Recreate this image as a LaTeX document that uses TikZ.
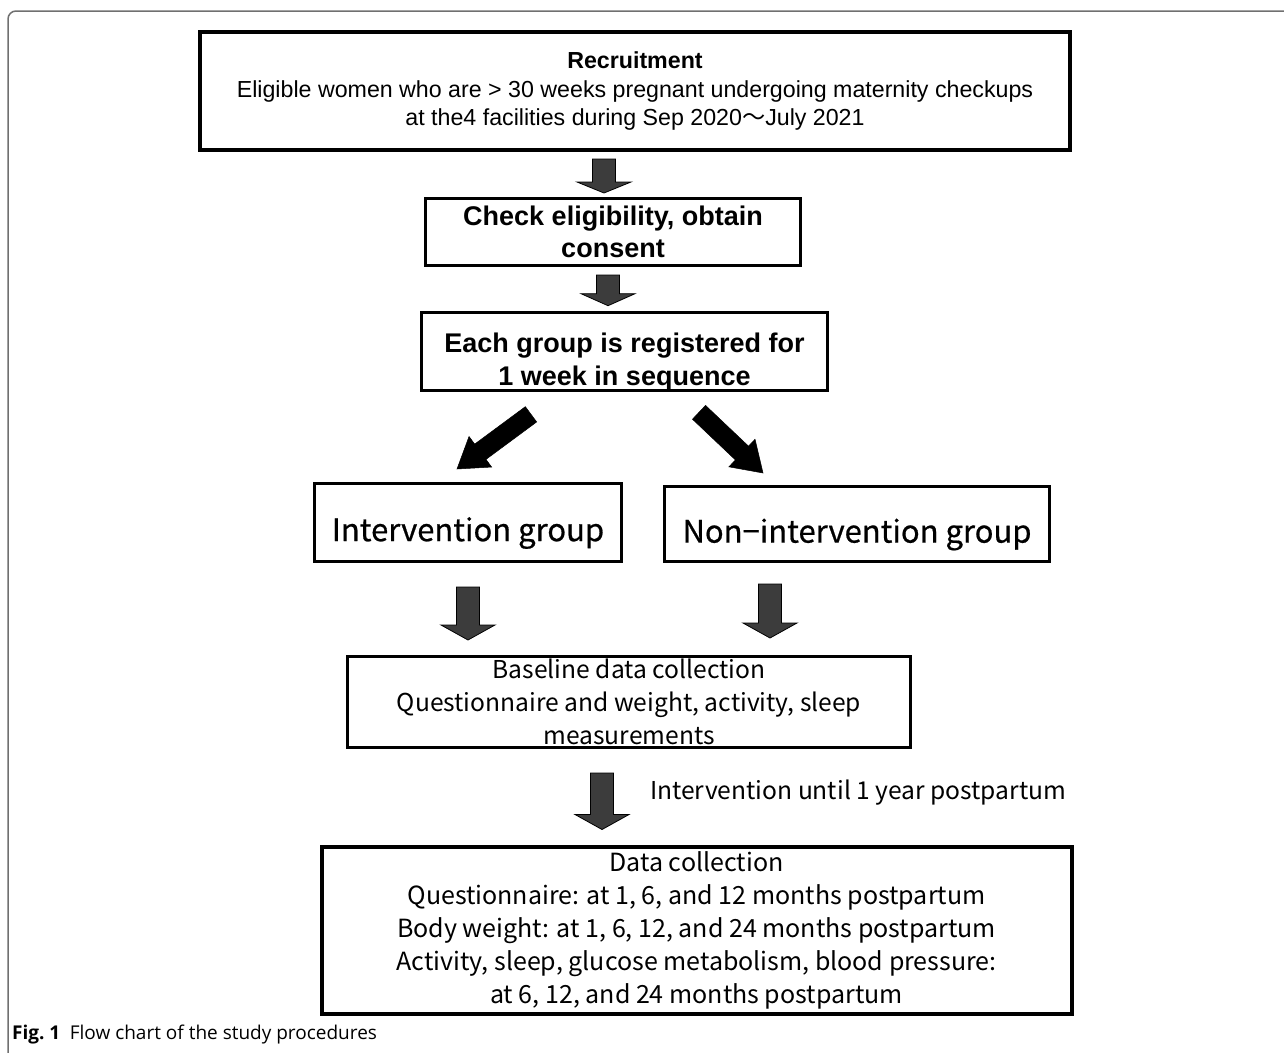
\documentclass[tikz,border=0pt]{standalone}
\usepackage{fontspec}
\setmainfont{Liberation Sans}
\newfontfamily\gothic{Noto Sans CJK JP}
\newfontfamily\gothicb[FakeBold=0.6]{Noto Sans CJK JP}
\newfontfamily\capfont{Open Sans}
\usetikzlibrary{calc,positioning}

\definecolor{arrowgray}{HTML}{3C3C3C}
\definecolor{framegray}{HTML}{707070}

\tikzset{
  fatsize/.code args={#1/#2/#3}{\def\fatsw{#1}\def\fathw{#2}\def\fathl{#3}},
  fat/.style={to path={
    (\tikztostart) coordinate (fa) (\tikztotarget) coordinate (fz)
    ($(fz)!\fathl!(fa)$) coordinate (fb)
    ($(fa)!\fatsw!90:(fz)$) -- ($(fb)!\fatsw!-90:(fa)$) -- ($(fb)!\fathw!-90:(fa)$)
    -- (fz) -- ($(fb)!\fathw!90:(fa)$) -- ($(fb)!\fatsw!90:(fa)$)
    -- ($(fa)!\fatsw!-90:(fz)$) -- cycle}},
  graydown/.style={fat, fatsize=11.5pt/27pt/15pt, draw=black, line width=0.8pt, fill=arrowgray},
  blackdiag/.style={fat, fatsize=9.5pt/19pt/29pt, draw=black, line width=0.5pt, fill=black},
  box/.style={draw, line width=3pt, inner sep=0pt, align=center},
}

\begin{document}
\begin{tikzpicture}[x=1pt,y=-1pt]
  \useasboundingbox (0,0) rectangle (1284,1052);
  \draw[framegray, line width=1.5pt, rounded corners=8pt] (8,1060) -- (8,11) -- (1290,11);

  % boxes
  \node[box, line width=4pt, minimum width=870pt, minimum height=118pt,
        font=\fontsize{23.2}{28}\selectfont] (recruit) at (635,91)
        {\textbf{Recruitment}\\Eligible women who are > 30 weeks pregnant undergoing maternity checkups\\at the4 facilities during Sep 2020{\gothic ～}July 2021};
  \node[box, minimum width=375pt, minimum height=67pt,
        font=\bfseries\fontsize{27}{32}\selectfont] (check) at (613,232)
        {Check eligibility, obtain\\consent};
  \node[box, minimum width=406pt, minimum height=78pt,
        font=\bfseries\fontsize{27}{33}\selectfont] (each) at (624.5,351.5)
        {\rule{0pt}{40pt}Each group is registered for\\1 week in sequence};
  \node[box, minimum width=307pt, minimum height=78pt,
        font=\gothicb\fontsize{31}{34}\selectfont] (interv) at (468,522.5)
        {\rule{0pt}{45pt}Intervention group};
  \node[box, minimum width=385pt, minimum height=75pt,
        font=\gothicb\fontsize{31}{34}\selectfont] (noninterv) at (857,524)
        {\rule{0pt}{45pt}Non−intervention group};
  \node[box, minimum width=563pt, minimum height=91pt,
        font=\gothic\fontsize{24.6}{33}\selectfont] (baseline) at (629,702)
        {Baseline data collection\\Questionnaire and weight, activity, sleep\\measurements};
  \node[box, line width=4pt, minimum width=750pt, minimum height=167pt,
        font=\gothic\fontsize{25}{33}\selectfont] (data) at (696.5,930)
        {Data collection\\Questionnaire: at 1, 6, and 12 months postpartum\\Body weight: at 1, 6, 12, and 24 months postpartum\\Activity, sleep, glucose metabolism, blood pressure:\\at 6, 12, and 24 months postpartum};

  \node[anchor=west, inner sep=0pt, font=\gothic\fontsize{24.6}{28}\selectfont] (until) at (650,793)
        {Intervention until 1 year postpartum};

  % block arrows
  \draw[graydown, fatsize=11.5pt/27pt/11pt] ([xshift=-31pt,yshift=-7pt]recruit.south) to ([xshift=-9pt,yshift=4pt]check.north);
  \draw[graydown, fatsize=11.5pt/27pt/12pt] ([xshift=-5pt,yshift=-8pt]check.south) to ([xshift=-16.5pt,yshift=5pt]each.north);
  \draw[blackdiag] ([xshift=-93.5pt,yshift=-22pt]each.south) to ([xshift=-11pt,yshift=13pt]interv.north);
  \draw[blackdiag] ([xshift=74.5pt,yshift=-20pt]each.south) to ([xshift=-94pt,yshift=12pt]noninterv.north);
  \draw[graydown] ([yshift=-24pt]interv.south) to ([xshift=-161pt,yshift=15pt]baseline.north);
  \draw[graydown] ([xshift=-87pt,yshift=-21pt]noninterv.south) to ([xshift=141pt,yshift=17pt]baseline.north);
  \draw[graydown] ([xshift=-27pt,yshift=-24pt]baseline.south) to ([xshift=-94.5pt,yshift=15pt]data.north);

  \node[anchor=west, inner sep=0pt, font=\capfont\fontsize{19}{22}\selectfont] (caption) at (12,1034)
        {\textbf{Fig.~1}\enspace Flow chart of the study procedures};
\end{tikzpicture}
\end{document}
